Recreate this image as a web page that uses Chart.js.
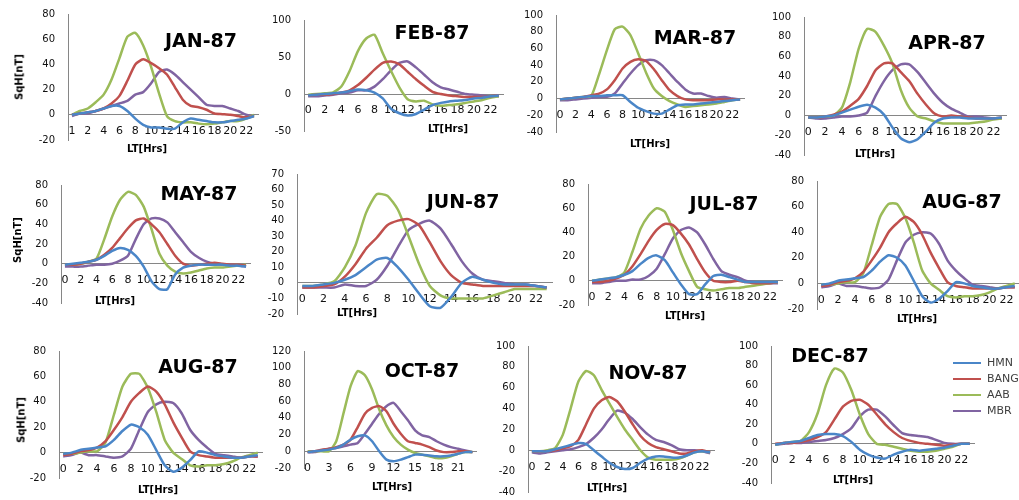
<!DOCTYPE html>
<html>
<head>
<meta charset="utf-8">
<script src="https://cdn.jsdelivr.net/npm/chart.js@4.4.1/dist/chart.umd.min.js"></script>
<style>
    body { margin: 0; background: #fff; width: 1019px; height: 500px; overflow: hidden; position: relative;
           font-family: "DejaVu Sans", Verdana, sans-serif; }
    canvas { position: absolute; }
    .lbl { position: absolute; transform: translate(-50%, -50%); white-space: nowrap; color: #000; }
    .ttl { font-weight: bold; font-size: 19px; }
    .ax { font-weight: bold; font-size: 10px; }
    .sq { transform: translate(-50%, -50%) rotate(-90deg); }
    .leg { position: absolute; font-size: 11px; color: #404040; white-space: nowrap; }
    .leg span { display: inline-block; width: 28px; height: 0; border-top: 2.5px solid; vertical-align: middle; margin-right: 6px; }
</style>
</head>
<body>
<script>
// ---------------------------------------------------------------------------
// Data (SqH in nT, hourly LT)
// ---------------------------------------------------------------------------

const SERIES = ["HMN", "BANG", "AAB", "MBR"];
const COLORS = ["#4a86c8", "#c0504d", "#9bbb59", "#8064a2"];

const HOURS = ["0", "1", "2", "3", "4", "5", "6", "7", "8", "9", "10", "11",
               "12", "13", "14", "15", "16", "17", "18", "19", "20", "21", "22", "23"];
const JAN_HOURS = ["1", "1", "2", "3", "4", "5", "6", "7", "8", "9", "10", "11",
                   "12", "13", "14", "15", "16", "17", "18", "19", "20", "21", "22", "23"];

const janHMN  = [0, 1, 2, 3, 5, 7, 7, 3, -3, -8, -10, -10, -11, -11, -6, -3, -4, -5, -6, -6, -5, -4, -3, -1];
const janBANG = [0, 1, 2, 3, 5, 9, 15, 27, 40, 44, 41, 37, 32, 22, 12, 7, 6, 4, 1, 0.5, 0, -1, -2, -1];
const janAAB  = [0, 3, 5, 10, 16, 28, 45, 62, 65, 55, 38, 17, -1, -5, -6, -6, -7, -7.5, -7, -6, -5, -5, -3, 0];
const janMBR  = [-1, 1, 1, 3, 5, 7, 9, 11, 16, 18, 25, 34, 36, 32, 26, 20, 14, 8, 7, 7, 5, 3, 0, -1];

const febHMN  = [-2, -1, 0, 1, 2, 4, 6, 5, 2, -6, -20, -26, -29, -27, -21, -15, -12, -10, -9, -8, -6, -5, -3, -2];
const febBANG = [-2, -1, -1, 0, 2, 5, 12, 22, 33, 42, 44, 40, 30, 20, 11, 3, 0, -2, -3, -4, -4, -4, -3, -2];
const febAAB  = [-1, 0, 1, 2, 10, 31, 58, 75, 80, 55, 31, 9, -7, -10, -9, -14, -16, -15, -14, -12, -10, -8, -5, -3];
const febMBR  = [-3, -3, -2, -1, 1, 2, 5, 5, 10, 20, 32, 42, 44, 36, 26, 16, 9, 6, 3, 0, -1, -2, -3, -3];

const marHMN  = [-1, 0, 1, 2, 3, 3, 4, 4, 4, -4, -11, -15, -18, -18, -13, -8, -7, -7, -6, -5, -4, -3, -2, -1];
const marBANG = [-1, 0, 1, 2, 4, 6, 11, 22, 36, 44, 47, 45, 35, 22, 10, 3, -1, -2, -2, -2, -1, -1, -1, -1];
const marAAB  = [-1, 0, 1, 2, 3, 29, 58, 83, 86, 76, 54, 31, 12, 3, -3, -7, -10, -9, -8, -7, -6, -4, -2, -1];
const marMBR  = [-2, -2, -1, 0, 1, 2, 2, 6, 18, 30, 40, 46, 46, 40, 30, 20, 11, 6, 6, 3, 1, 2, 0, -1];

const aprHMN  = [-2, -2, -1, 0, 3, 6, 9, 11, 8, 1, -12, -23, -27, -24, -16, -7, -3, -2, -2, -3, -3, -3, -3, -2];
const aprBANG = [-2, -2, -1, 1, 4, 10, 17, 30, 46, 53, 53, 44, 35, 22, 11, 2, -1, 0, -1, -2, -3, -3, -3, -2];
const aprAAB  = [-2, -2, -1, 0, 8, 34, 68, 88, 85, 71, 53, 26, 8, -1, -3, -6, -8, -8, -8, -8, -7, -6, -4, -3];
const aprMBR  = [-2, -3, -3, -2, -1, -1, 0, 3, 20, 35, 46, 52, 52, 44, 33, 22, 13, 7, 3, -1, -1, -2, -3, -3];

const mayHMN  = [-1, 0, 1, 2, 4, 8, 13, 16, 14, 8, -3, -18, -26, -26, -11, -4, -2, -1, -1, -1, -1, -2, -2, -3];
const mayBANG = [-1, -1, 0, 2, 4, 9, 16, 26, 36, 44, 46, 40, 32, 20, 8, 0, -2, -1, 0, 1, 0, -1, -1, -2];
const mayAAB  = [-1, -1, 0, 2, 5, 25, 48, 65, 73, 70, 58, 35, 10, -2, -8, -10, -9, -7, -5, -4, -4, -3, -2, -1];
const mayMBR  = [-3, -3, -3, -2, -1, -1, 0, 3, 8, 25, 40, 46, 46, 42, 32, 22, 12, 6, 2, 0, -1, -1, -2, -3];

const junHMN  = [-2, -2, -1, 0, 2, 5, 10, 15, 16, 10, 2, -7, -15, -16, -9, 0, 4, 2, 0, -1, -1, -1, -2, -3];
const junBANG = [-3, -3, -2, -1, 4, 12, 22, 29, 37, 40, 41, 37, 26, 14, 5, 0, -1, -2, -2, -2, -2, -2, -2, -3];
const junAAB  = [-2, -2, -1, 1, 10, 24, 45, 57, 56, 47, 30, 12, -2, -8, -10, -10, -10, -10, -8, -6, -4, -4, -4, -4];
const junMBR  = [-3, -3, -3, -3, -1, -2, -2, 2, 11, 23, 34, 38, 40, 35, 25, 14, 6, 2, 1, 0, -1, -1, -2, -3];

const julHMN  = [0, 1, 2, 3, 5, 8, 14, 19, 21, 17, 7, -3, -11, -11, -3, 4, 5, 3, 1, -1, -1, -1, -1, -1];
const julBANG = [-1, -1, 0, 2, 5, 12, 22, 33, 42, 47, 46, 39, 30, 18, 7, 0, -1, -1, 0, -1, -2, -2, -2, -1];
const julAAB  = [0, 1, 2, 3, 7, 24, 43, 54, 60, 57, 42, 23, 8, -5, -7, -8, -7, -6, -6, -5, -4, -3, -2, -1];
const julMBR  = [-2, -2, -1, 0, 0, 1, 1, 4, 10, 22, 35, 42, 44, 40, 30, 18, 8, 5, 3, 0, -1, -2, -2, -2];

const augHMN  = [-1, 0, 2, 3, 4, 5, 10, 17, 22, 20, 14, 2, -10, -15, -12, -6, 1, 0, -2, -3, -4, -4, -3, -2];
const augBANG = [-2, -1, 1, 2, 4, 9, 18, 28, 40, 47, 52, 48, 38, 24, 12, 1, -2, -3, -4, -4, -4, -4, -3, -3];
const augAAB  = [-1, -1, 0, 1, 1, 8, 30, 52, 62, 62, 51, 32, 10, 0, -5, -10, -11, -10, -10, -9, -7, -4, -2, 0];
const augMBR  = [-3, -2, 0, -2, -2, -3, -4, -3, 3, 18, 32, 38, 40, 39, 31, 18, 10, 4, -1, -2, -3, -4, -3, -3];

const octHMN  = [-1, 0, 1, 2, 4, 8, 14, 18, 19, 12, 0, -10, -12, -10, -7, -4, -4, -5, -6, -6, -5, -3, -1, -1];
const octBANG = [-1, 0, 2, 3, 5, 8, 14, 29, 45, 52, 54, 48, 33, 21, 12, 10, 8, 5, 1, -1, -1, 0, 0, -1];
const octAAB  = [0, 0, 0, 0, 12, 45, 78, 96, 91, 74, 50, 31, 17, 8, 2, -2, -4, -6, -8, -8, -6, -3, -1, -1];
const octMBR  = [-1, -1, 1, 3, 4, 6, 8, 10, 21, 33, 45, 54, 58, 48, 37, 25, 19, 17, 12, 8, 5, 3, 1, -1];

const novHMN  = [-1, -1, -1, 1, 3, 5, 7, 6, 0, -6, -12, -16, -18, -17, -12, -8, -6, -6, -7, -7, -5, -2, -1, -2];
const novBANG = [-1, -1, -1, 0, 2, 4, 10, 25, 40, 48, 51, 47, 37, 25, 14, 7, 3, 1, -1, -3, -3, -1, 0, -2];
const novAAB  = [-1, -1, 0, 2, 15, 40, 66, 76, 72, 58, 45, 32, 20, 10, 0, -7, -9, -9, -9, -8, -5, -2, -1, -2];
const novMBR  = [-2, -3, -2, -1, 0, 1, 3, 6, 12, 20, 30, 38, 36, 30, 22, 15, 10, 8, 5, 1, 0, 0, -1, -3];

const decHMN  = [-1, 1, 2, 3, 6, 9, 10, 10, 8, 2, -6, -11, -14, -15, -11, -8, -6, -7, -6, -5, -4, -2, 0, 0];
const decBANG = [0, 1, 1, 2, 4, 7, 12, 25, 38, 44, 45, 40, 30, 20, 12, 6, 3, 1, 0, -1, -2, -1, 0, 0];
const decAAB  = [-1, 1, 2, 3, 12, 31, 60, 77, 73, 55, 30, 10, 0, -1, -3, -5, -7, -8, -8, -7, -5, -3, 0, 0];
const decMBR  = [-1, 0, 1, 1, 2, 3, 4, 6, 10, 16, 28, 35, 35, 28, 19, 11, 9, 8, 7, 4, 1, 0, 0, 0];

// ---------------------------------------------------------------------------
// Panels: plot box [left, right, top, bottom], y range, label step, text spots
// ---------------------------------------------------------------------------

const PANELS = [
    { title: "JAN-87", data: [janHMN, janBANG, janAAB, janMBR], labels: JAN_HOURS, every: 2,
      box: [68, 258, 13, 141], y: [-20, 80, 20], t: [201, 40], lt: [147, 148], sq: [19, 77] },
    { title: "FEB-87", data: [febHMN, febBANG, febAAB, febMBR], labels: HOURS, every: 2,
      box: [304, 503, 19, 132], y: [-50, 100, 50], t: [432, 32], lt: [448, 128] },
    { title: "MAR-87", data: [marHMN, marBANG, marAAB, marMBR], labels: HOURS, every: 2,
      box: [556, 744, 14, 133], y: [-40, 100, 20], t: [695, 37], lt: [650, 143] },
    { title: "APR-87", data: [aprHMN, aprBANG, aprAAB, aprMBR], labels: HOURS, every: 2,
      box: [804, 1006, 16, 156], y: [-40, 100, 20], t: [947, 42], lt: [875, 153] },
    { title: "MAY-87", data: [mayHMN, mayBANG, mayAAB, mayMBR], labels: HOURS, every: 2,
      box: [61, 250, 184, 304], y: [-40, 80, 20], t: [199, 193], lt: [115, 300], sq: [17, 240] },
    { title: "JUN-87", data: [junHMN, junBANG, junAAB, junMBR], labels: HOURS, every: 2,
      box: [297, 552, 173, 314.5], y: [-20, 70, 10], t: [463, 201], lt: [357, 312] },
    { title: "JUL-87", data: [julHMN, julBANG, julAAB, julMBR], labels: HOURS, every: 2,
      box: [588, 782, 183, 306], y: [-20, 80, 20], t: [724, 203], lt: [685, 315] },
    { title: "AUG-87", data: [augHMN, augBANG, augAAB, augMBR], labels: HOURS, every: 2,
      box: [817, 1019, 180, 309.5], y: [-20, 80, 20], t: [962, 201], lt: [917, 318] },
    { title: "AUG-87", data: [augHMN, augBANG, augAAB, augMBR], labels: HOURS, every: 2,
      box: [59, 262, 350, 479], y: [-20, 80, 20], t: [198, 366], lt: [158, 489], sq: [21, 420] },
    { title: "OCT-87", data: [octHMN, octBANG, octAAB, octMBR], labels: HOURS, every: 3,
      box: [304, 476, 350, 469], y: [-20, 120, 20], t: [422, 370], lt: [392, 486] },
    { title: "NOV-87", data: [novHMN, novBANG, novAAB, novMBR], labels: HOURS, every: 2,
      box: [528, 714, 345, 493], y: [-40, 100, 20], t: [648, 372], lt: [607, 487] },
    { title: "DEC-87", data: [decHMN, decBANG, decAAB, decMBR], labels: HOURS, every: 2,
      box: [771, 974, 345, 483.5], y: [-40, 100, 20], t: [830, 355], lt: [853, 479] },
];

const LEGEND_POS = [953, 363, 16]; // x, first row y, row step

const Y_BOX = 50;   // width reserved for y tick labels
const PAD = 10;
const AXIS_COLOR = "#868686";
const X_TICK_FONT = { family: "DejaVu Sans", size: 11 };
const Y_TICK_FONT = { family: "DejaVu Sans", size: 10 };

// ---------------------------------------------------------------------------
// Helpers
// ---------------------------------------------------------------------------

function addText(cls, text, pos) {
    const el = document.createElement("div");
    el.className = "lbl " + cls;
    el.textContent = text;
    el.style.left = pos[0] + "px";
    el.style.top = pos[1] + "px";
    document.body.appendChild(el);
}

function makePanel(p) {
    const [l, r, t, b] = p.box;
    const canvas = document.createElement("canvas");
    canvas.width = Math.round(r - l + Y_BOX + PAD);
    canvas.height = Math.round(b - t + 2 * PAD);
    canvas.style.left = (l - Y_BOX) + "px";
    canvas.style.top = (t - PAD) + "px";
    document.body.appendChild(canvas);

    new Chart(canvas.getContext("2d"), {
        type: "line",
        data: {
            labels: p.labels,
            datasets: SERIES.map((name, i) => ({
                label: name,
                data: p.data[i],
                borderColor: COLORS[i],
                borderWidth: 2.5,
                pointRadius: 0,
                tension: 0.2,
                fill: false,
            })),
        },
        options: {
            responsive: false,
            animation: false,
            events: [],
            layout: { padding: { top: PAD, right: PAD, bottom: PAD, left: 0 } },
            plugins: { legend: { display: false }, tooltip: { enabled: false } },
            scales: {
                x: {
                    type: "category",
                    offset: true,
                    position: { y: 0 },
                    grid: { display: false, drawTicks: true, tickLength: 8 },
                    border: { display: true, color: AXIS_COLOR, width: 1 },
                    ticks: {
                        autoSkip: false, maxRotation: 0, minRotation: 0, padding: 2,
                        color: "#111", font: X_TICK_FONT,
                        callback: function (val, idx) {
                            return idx % p.every === 0 ? this.getLabelForValue(val) : "";
                        },
                    },
                },
                y: {
                    min: p.y[0], max: p.y[1],
                    grid: { display: false, drawTicks: true, tickLength: 8 },
                    border: { display: true, color: AXIS_COLOR, width: 1 },
                    ticks: {
                        stepSize: p.y[2], autoSkip: false, autoSkipPadding: 0, padding: 5,
                        color: "#111", font: Y_TICK_FONT,
                    },
                    afterBuildTicks: (scale) => {
                        // keep every step (the scale would thin them on short panels)
                        const ticks = [];
                        for (let v = p.y[0]; v <= p.y[1]; v += p.y[2]) ticks.push({ value: v });
                        scale.ticks = ticks;
                    },
                    afterFit: (scale) => { scale.width = Y_BOX; },
                },
            },
        },
    });

    addText("ttl", p.title, p.t);
    addText("ax", "LT[Hrs]", p.lt);
    if (p.sq) addText("ax sq", "SqH[nT]", p.sq);
}

function makeLegend() {
    SERIES.forEach((name, i) => {
        const el = document.createElement("div");
        el.className = "leg";
        el.innerHTML = `<span style="border-color:${COLORS[i]}"></span>${name}`;
        el.style.left = LEGEND_POS[0] + "px";
        el.style.top = (LEGEND_POS[1] + i * LEGEND_POS[2] - 7) + "px";
        document.body.appendChild(el);
    });
}

PANELS.forEach(makePanel);
makeLegend();
</script>
</body>
</html>
